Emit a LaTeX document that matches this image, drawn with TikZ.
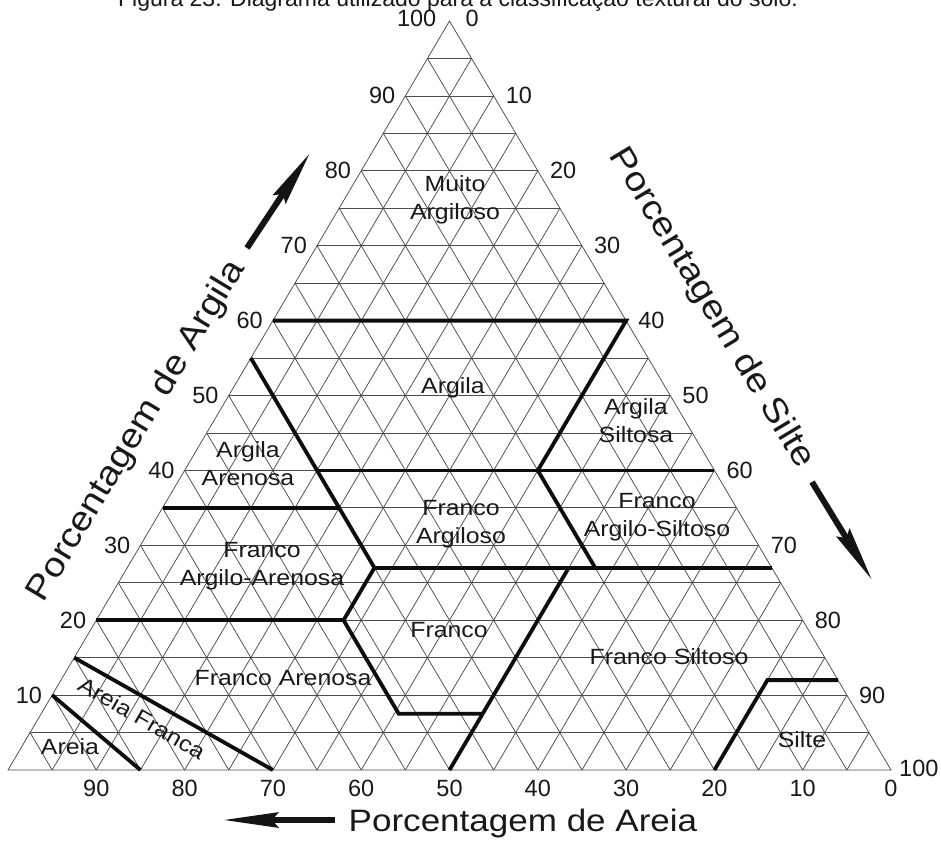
\documentclass[tikz,border=0pt]{standalone}
\usepackage{fontspec}
\setmainfont{Liberation Sans}
\newfontfamily\widefont{Liberation Sans}[FakeStretch=1.13]
\usetikzlibrary{arrows.meta}
\begin{document}
\begin{tikzpicture}[x=1pt,y=-1pt,
  gridline/.style={draw=black!70, line width=0.75pt},
  zoneline/.style={draw=black!95, line width=3.8pt, line join=miter},
  ticklbl/.style={font=\fontsize{23.5}{28}\selectfont, inner sep=0pt, text=black!90},
  region/.style={font=\widefont\fontsize{22}{28}\selectfont, align=center, inner sep=0pt, text=black!90},
  axistitle/.style={font=\widefont\fontsize{34}{40}\selectfont, inner sep=0pt, text=black!90},
  bottomtitle/.style={font=\widefont\fontsize{31}{36}\selectfont, inner sep=0pt, text=black!90},
  axisarrow/.style={draw=black!92, line width=6pt, -{Stealth[length=55pt,width=15pt,inset=6pt]}},
]
\useasboundingbox (0,0) rectangle (941,841);
\fill[white] (0,0) rectangle (941,841);

% caption line at the top edge
\node[font=\fontsize{23}{26}\selectfont, anchor=base, inner sep=0pt, text=black!90] (caption) at (458,6)
  {Figura 23. Diagrama utilizado para a classificação textural do solo.};

% ternary frame: x = silt, y = clay (percent)
\begin{scope}[shift={(8,770)}, x={(8.83pt,0pt)}, y={(4.415pt,7.49pt)}]
  % 5 % grid
  \foreach \k in {5,10,...,95} {
    \draw[gridline] (0,\k) -- ({100-\k},\k);
    \draw[gridline] (\k,0) -- (\k,{100-\k});
    \draw[gridline] (0,\k) -- (\k,0);
  }
  \draw[gridline] (0,0) -- (100,0) -- (0,100) -- cycle;

  % texture class boundaries
  \draw[zoneline] (0,60) -- (40,60) -- (40,40) -- (53,27);
  \draw[zoneline] (15,40) -- (60,40);
  \draw[zoneline] (0,55) -- (28,27) -- (28,20) -- (40.5,7.5) -- (50,7.5);
  \draw[zoneline] (0,35) -- (20,35);
  \draw[zoneline] (28,27) -- (73,27);
  \draw[zoneline] (0,20) -- (28,20);
  \draw[zoneline] (50,27) -- (50,0);
  \draw[zoneline] (80,0) -- (80,12) -- (88,12);
  \draw[zoneline] (0,10) -- (15,0);
  \draw[zoneline] (0,15) -- (30,0);

  % scale numbers
  \foreach \v in {10,20,...,90} {
    \node[ticklbl, anchor=east, xshift=-10pt] (clay\v) at (0,\v) {\v};
    \node[ticklbl, anchor=west, xshift=12pt] (silt\v) at (\v,{100-\v}) {\v};
    \node[ticklbl, anchor=north, yshift=-10pt] (sand\v) at ({100-\v},0) {\v};
  }
  \node[ticklbl, anchor=east, xshift=-13pt, yshift=3pt] (clay100) at (0,100) {100};
  \node[ticklbl, anchor=west, xshift=16pt, yshift=3pt] (silt0) at (0,100) {0};
  \node[ticklbl, anchor=west, xshift=8pt, yshift=2pt] (silt100) at (100,0) {100};
  \node[ticklbl, anchor=north, yshift=-10pt] (sand0) at (100,0) {0};
\end{scope}

% class names
\node[region] (muito) at (455,200) {Muito\\Argiloso};
\node[region] (argila) at (453,388) {Argila};
\node[region] (argsil) at (636,421) {Argila\\Siltosa};
\node[region] (argare) at (248,464) {Argila\\Arenosa};
\node[region] (francoarg) at (461,524) {Franco\\Argiloso};
\node[region] (fas) at (657,517) {Franco\\Argilo-Siltoso};
\node[region] (faa) at (262,566) {Franco\\Argilo-Arenosa};
\node[region] (franco) at (449,630) {Franco};
\node[region] (fare) at (283,678) {Franco Arenosa};
\node[region] (fsil) at (669,657) {Franco Siltoso};
\node[region] (silte) at (802,740) {Silte};
\node[region] (areia) at (70,747) {Areia};
\node[region, rotate=-30] (afranca) at (142,718) {Areia Franca};

% axis titles and direction arrows
\node[axistitle, rotate=59] (tclay) at (137,431) {Porcentagem de Argila};
\node[axistitle, rotate=-59] (tsilt) at (711,308) {Porcentagem de Silte};
\node[bottomtitle, anchor=base] (tsand) at (523,831) {Porcentagem de Areia};

\coordinate (clayTail) at (247,248);
\coordinate (clayTip) at (310,153);
\coordinate (siltTail) at (812,482);
\coordinate (siltTip) at (872,580);
\coordinate (sandTail) at (335,820);
\coordinate (sandTip) at (223,820);
\draw[axisarrow] (clayTail) -- (clayTip);
\draw[axisarrow] (siltTail) -- (siltTip);
\draw[axisarrow] (sandTail) -- (sandTip);
\end{tikzpicture}
\end{document}
